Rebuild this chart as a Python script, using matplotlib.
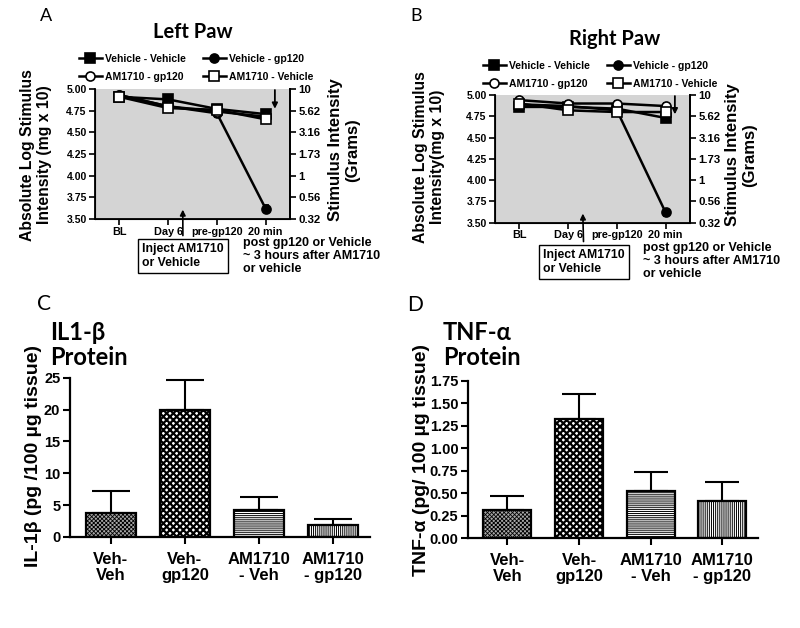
import matplotlib
matplotlib.use("Agg")
import matplotlib.pyplot as plt
from matplotlib.lines import Line2D
import numpy as np

# ---- data ----
time_labels = ["BL", "Day 6", "pre-gp120", "20 min"]
series_names = ["Vehicle - Vehicle", "Vehicle - gp120", "AM1710 - gp120", "AM1710 - Vehicle"]

left_vv = [4.91, 4.88, 4.77, 4.71]
left_vg = [4.93, 4.80, 4.72, 3.62]
left_ag = [4.93, 4.80, 4.74, 4.68]
left_av = [4.91, 4.78, 4.76, 4.65]
left_err = [0.03, 0.03, 0.04, 0.04]

right_vv = [4.86, 4.86, 4.84, 4.73]
right_vg = [4.89, 4.87, 4.82, 3.62]
right_ag = [4.94, 4.90, 4.90, 4.87]
right_av = [4.90, 4.82, 4.80, 4.80]
right_err = [0.02, 0.03, 0.03, 0.04]

left_ticks = [3.50, 3.75, 4.00, 4.25, 4.50, 4.75, 5.00]
right_tick_labels = ["0.32", "0.56", "1", "1.73", "3.16", "5.62", "10"]

groups = ["Veh-\nVeh", "Veh-\ngp120", "AM1710\n- Veh", "AM1710\n- gp120"]
il1b_mean = [3.7, 20.0, 4.3, 1.9]
il1b_top = [7.2, 24.7, 6.2, 2.8]
tnfa_mean = [0.31, 1.33, 0.52, 0.41]
tnfa_top = [0.47, 1.61, 0.74, 0.62]

W, H = 800, 628
plt.rcParams["font.family"] = ["Liberation Sans", "DejaVu Sans"]
plt.rcParams["hatch.linewidth"] = 0.7
fig = plt.figure(figsize=(8, 6.28), dpi=100)
CAL = ["Lato", "Open Sans", "DejaVu Sans"]


def fx(x):
    return x / W


def fy(y):
    return 1 - y / H


def rect(l, t, r, b):
    return [fx(l), fy(b), fx(r) - fx(l), (b - t) / H]


def paw_panel(box, data, err, lpos):
    ax = fig.add_axes(box)
    ax.set_facecolor("#d4d4d4")
    x = np.arange(4)
    styles = [("s", "black"), ("o", "black"), ("o", "white"), ("s", "white")]
    handles = []
    for (m, fc), ys, name in zip(styles, data, series_names):
        ax.errorbar(x, ys, yerr=err, color="black", lw=1.8, marker=m, ms=6.5,
                    mfc=fc, mec="black", mew=1.2, capsize=2.5, elinewidth=1)
        handles.append(Line2D([], [], color="black", lw=1.8, marker=m, ms=6.5,
                              mfc=fc, mec="black", mew=1.2, label=name))
    ax.set_xlim(-0.5, 3.5)
    ax.set_ylim(3.5, 5.0)
    ax.set_xticks(x)
    ax.set_xticklabels(time_labels, fontsize=7.8, fontweight="bold")
    ax.set_yticks(left_ticks)
    ax.set_yticklabels(["%.2f" % v for v in left_ticks], fontsize=7.5, fontweight="bold")
    ax.spines["top"].set_visible(False)
    for s in ["left", "bottom", "right"]:
        ax.spines[s].set_linewidth(1.3)
    ax.tick_params(width=1.2, length=4, pad=2)
    ax.tick_params(axis="x", pad=1.5)
    ax2 = ax.twinx()
    ax2.set_ylim(3.5, 5.0)
    ax2.set_yticks(left_ticks)
    ax2.set_yticklabels(right_tick_labels, fontsize=8.2, fontweight="bold")
    ax2.spines["top"].set_visible(False)
    ax2.spines["right"].set_linewidth(1.3)
    ax2.tick_params(width=1.2, length=4, pad=2)
    order = [handles[0], handles[2], handles[1], handles[3]]
    fig.legend(handles=order, loc="center", bbox_to_anchor=(fx(lpos[0]), fy(lpos[1])),
               ncol=2, frameon=False, prop={"size": 7.5, "weight": "bold"},
               handlelength=2.2, columnspacing=1.6, handletextpad=0.3, labelspacing=0.75)
    return ax


axA = paw_panel(rect(95, 89, 290, 219), [left_vv, left_vg, left_ag, left_av], left_err, (196, 68))
axB = paw_panel(rect(495, 95, 690, 222.7), [right_vv, right_vg, right_ag, right_av], right_err, (600, 75))

# panel text
fig.text(fx(46), fy(16), "A", fontsize=13, family=CAL, ha="center", va="center")
fig.text(fx(416), fy(16), "B", fontsize=13, family=CAL, ha="center", va="center")
fig.text(fx(193), fy(32), "Left Paw", fontsize=14.5, family=CAL, fontweight="bold",
         ha="center", va="center")
fig.text(fx(615), fy(39), "Right Paw", fontsize=14.5, family=CAL, fontweight="bold",
         ha="center", va="center")

fig.text(fx(36), fy(155), "Absolute Log Stimulus\nIntensity (mg x 10)", rotation=90,
         fontsize=11.3, fontweight="bold", ha="center", va="center")
fig.text(fx(344), fy(150), "Stimulus Intensity\n(Grams)", rotation=90,
         fontsize=12, fontweight="bold", ha="center", va="center")
fig.text(fx(429), fy(157), "Absolute Log Stimulus\nIntensity(mg x 10)", rotation=90,
         fontsize=11.3, fontweight="bold", ha="center", va="center")
fig.text(fx(741), fy(155), "Stimulus Intensity\n(Grams)", rotation=90,
         fontsize=12, fontweight="bold", ha="center", va="center")

# arrows and notes
for ax, xdown, box_xy, note_xy in [(axA, 3.19, (183, 256), (243, 237)),
                                   (axB, 3.19, (584, 262), (643, 242))]:
    ax.annotate("", xy=(xdown, 4.74), xytext=(xdown, 5.02), xycoords="data",
                arrowprops=dict(arrowstyle="-|>", color="black", lw=1.3, mutation_scale=8),
                annotation_clip=False)
    ax.annotate("Inject AM1710\nor Vehicle", xy=(1.3, 3.64), xycoords="data",
                xytext=(fx(box_xy[0]), fy(box_xy[1])), textcoords="figure fraction",
                ha="center", va="center", multialignment="left", fontsize=8.8, fontweight="bold",
                bbox=dict(boxstyle="square,pad=0.35", fc="white", ec="black", lw=1),
                arrowprops=dict(arrowstyle="-|>", color="black", lw=1.2, mutation_scale=8),
                annotation_clip=False)
    fig.text(fx(note_xy[0]), fy(note_xy[1]), "post gp120 or Vehicle\n~ 3 hours after AM1710\nor vehicle",
             fontsize=9, fontweight="bold", ha="left", va="top", linespacing=1.1)


def bar_panel(box, means, tops, yticks, fmt, ylab, title, letter, lpos, tpos, ypos, cap):
    ax = fig.add_axes(box)
    x = np.arange(4)
    faces = ["#a8a8a8", "white", "white", "white"]
    hatches = ["xxxxxxxx", "xxxxx", "--------", "||||||||"]
    hlw = [0.6, 1.6, 0.7, 0.7]
    ax.errorbar(x, means, yerr=[np.zeros(4), np.array(tops) - np.array(means)], fmt="none",
                ecolor="black", elinewidth=1.5, capsize=cap, capthick=1.5, zorder=1)
    for xi, m, fc, h, lw in zip(x, means, faces, hatches, hlw):
        bars = ax.bar(xi, m, width=0.67, color=fc, edgecolor="black", hatch=h, lw=1.6, zorder=2)
        for p in bars:
            try:
                p.set_hatch_linewidth(lw)
            except AttributeError:
                pass
    ax.set_xlim(-0.55, 3.5)
    ax.set_ylim(0, yticks[-1])
    ax.set_yticks(yticks)
    ax.set_yticklabels([fmt % v for v in yticks], fontsize=10.5, fontweight="bold")
    ax.set_xticks(x)
    ax.set_xticklabels(groups, fontsize=12, fontweight="bold", linespacing=1.1)
    for s in ["top", "right"]:
        ax.spines[s].set_visible(False)
    for s in ["left", "bottom"]:
        ax.spines[s].set_linewidth(1.6)
    ax.tick_params(width=1.5, length=5, pad=2)
    ax.tick_params(axis="x", pad=6)
    fig.text(fx(ypos[0]), fy(ypos[1]), ylab, rotation=90, fontsize=14, fontweight="bold",
             ha="center", va="center")
    fig.text(fx(tpos[0]), fy(tpos[1]), title, fontsize=17, family=CAL, fontweight="bold",
             ha="left", va="center", linespacing=1.1)
    fig.text(fx(lpos[0]), fy(lpos[1]), letter, fontsize=15, family=CAL, ha="center", va="center")
    return ax


bar_panel(rect(70, 377.7, 370, 537), il1b_mean, il1b_top, [0, 5, 10, 15, 20, 25], "%d",
          "IL-1β (pg /100 µg tissue)", "IL1-β\nProtein", "C", (44, 304), (50, 345), (34, 456), 13.5)
bar_panel(rect(468, 381, 758, 538), tnfa_mean, tnfa_top,
          [0, 0.25, 0.5, 0.75, 1.0, 1.25, 1.5, 1.75], "%.2f",
          "TNF-α (pg/ 100 µg tissue)", "TNF-α\nProtein", "D", (415, 305), (443, 345), (422, 460), 12.5)

fig.savefig("out.png", dpi=100)
